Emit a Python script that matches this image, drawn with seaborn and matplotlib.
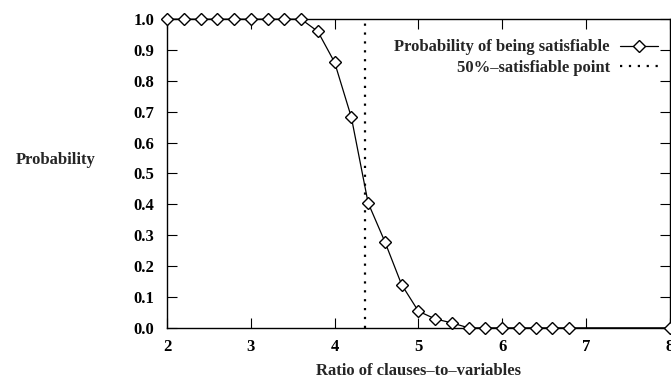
import numpy as np
import pandas as pd
import seaborn as sns
import matplotlib.pyplot as plt
from matplotlib.lines import Line2D

sns.set_style("ticks")
plt.rcParams['font.family'] = ['Liberation Serif', 'DejaVu Serif']
plt.rcParams['font.weight'] = 'bold'

ratio = [2.0, 2.2, 2.4, 2.6, 2.8, 3.0, 3.2, 3.4, 3.6, 3.8, 4.0, 4.2, 4.4, 4.6,
         4.8, 5.0, 5.2, 5.4, 5.6, 5.8, 6.0, 6.2, 6.4, 6.6, 6.8, 8.0]
prob = [1.0, 1.0, 1.0, 1.0, 1.0, 1.0, 1.0, 1.0, 1.0, 0.96, 0.86, 0.682, 0.405, 0.279,
        0.14, 0.054, 0.029, 0.016, 0.0, 0.0, 0.0, 0.0, 0.0, 0.0, 0.0, 0.0]
half_point = 4.36

df = pd.DataFrame({"ratio": ratio, "prob": prob})

fig = plt.figure(figsize=(6.71, 3.83), dpi=100)
ax = fig.add_axes([0.249, 0.144, 0.749, 0.806])

sns.lineplot(data=df, x="ratio", y="prob", ax=ax, color="black", linewidth=0.9,
             marker="D", markersize=5.8, markerfacecolor="white",
             markeredgecolor="black", markeredgewidth=1.0, clip_on=False, zorder=5)
ax.axvline(half_point, color="black", linestyle=(0, (1, 3)), linewidth=1.6)

ax.set_xlim(2, 8)
ax.set_ylim(0, 1)
ax.set_xticks(np.arange(2, 9, 1))
ax.set_yticks(np.arange(0, 1.01, 0.1))
ax.set_yticklabels([f"{v:.1f}" for v in np.arange(0, 1.01, 0.1)])
ax.tick_params(direction="in", top=True, right=True, length=7, width=0.8,
               labelsize=12, colors="black")
ax.tick_params(axis="y", pad=9)
ax.tick_params(axis="x", pad=8)
for s in ax.spines.values():
    s.set_linewidth(1.0)
    s.set_color("black")

ax.set_xlabel("Ratio of clauses–to–variables", fontsize=12, fontweight="bold", labelpad=6)
ax.set_ylabel("Probability", fontsize=12, fontweight="bold", rotation=0,
              ha="center", va="center")
ax.yaxis.set_label_coords(-0.222, 0.544)

handles = [
    Line2D([], [], color="black", linewidth=0.9, marker="D", markersize=5.8,
           markerfacecolor="white", markeredgecolor="black"),
    Line2D([], [], color="black", linestyle=(0, (1, 3)), linewidth=1.6),
]
ax.legend(handles, ["Probability of being satisfiable", "50%–satisfiable point"],
          loc="upper right", bbox_to_anchor=(1.0, 0.972), frameon=False,
          markerfirst=False, fontsize=12, handlelength=2.3, labelspacing=0.25,
          handletextpad=0.6, borderaxespad=0.3)
ax.get_legend()._legend_box.align = "right"

fig.savefig("out.png", dpi=100)
